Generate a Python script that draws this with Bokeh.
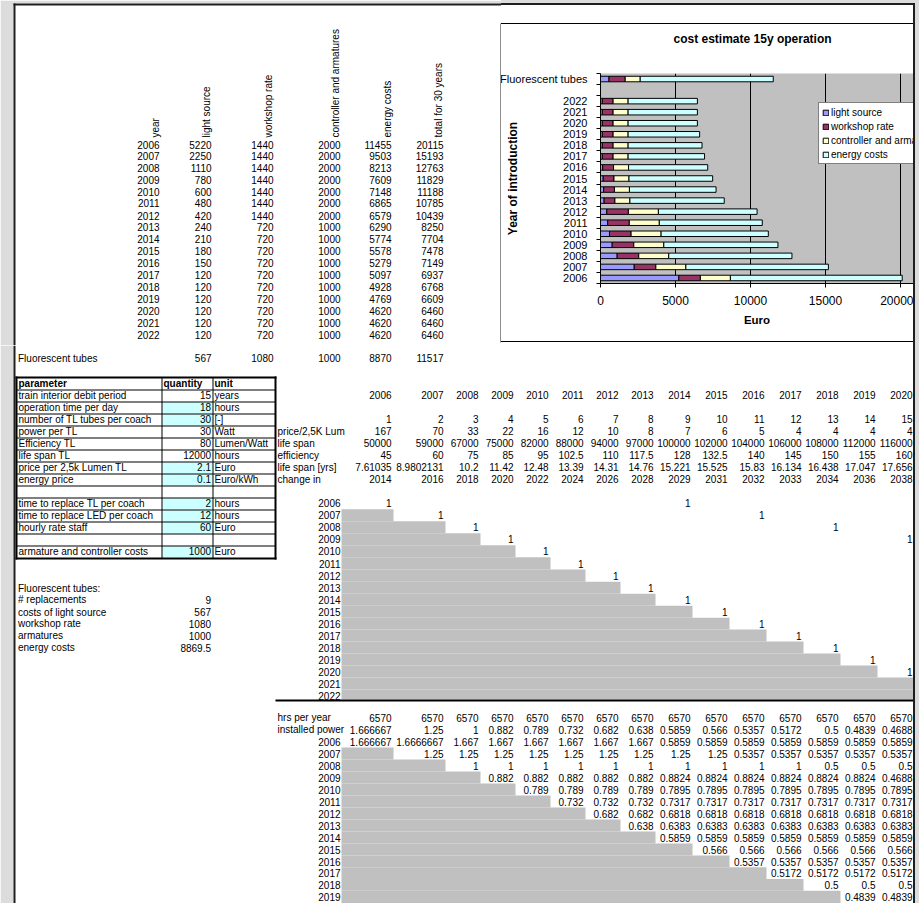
import math
from bokeh.plotting import figure
from bokeh.models import Range1d, FixedTicker, ColumnDataSource, Div, Title
from bokeh.layouts import row, column
from bokeh.core.properties import value
from bokeh.embed import file_html
from bokeh.resources import INLINE

# ------------------------------------------------------------------ data
years = [2006, 2007, 2008, 2009, 2010, 2011, 2012, 2013, 2014, 2015, 2016, 2017, 2018, 2019, 2020, 2021, 2022]
light_source = [5220, 2250, 1110, 780, 600, 480, 420, 240, 210, 180, 150, 120, 120, 120, 120, 120, 120]
workshop_rate = [1440, 1440, 1440, 1440, 1440, 1440, 1440, 720, 720, 720, 720, 720, 720, 720, 720, 720, 720]
controller_armatures = [2000, 2000, 2000, 2000, 2000, 2000, 2000, 1000, 1000, 1000, 1000, 1000, 1000, 1000, 1000, 1000, 1000]
energy_costs = [11455, 9503, 8213, 7609, 7148, 6865, 6579, 6290, 5774, 5578, 5279, 5097, 4928, 4769, 4620, 4620, 4620]
total_30y = [20115, 15193, 12763, 11829, 11188, 10785, 10439, 8250, 7704, 7478, 7149, 6937, 6768, 6609, 6460, 6460, 6460]
table_headers = ["year", "light source", "workshop rate", "controller and armatures", "energy costs", "total for 30 years"]

fl_label = "Fluorescent tubes"
fl_light, fl_workshop, fl_controller, fl_energy, fl_total = 567, 1080, 1000, 8870, 11517

chart_title = "cost estimate 15y operation"
series_names = ["light source", "workshop rate", "controller and armatures", "energy costs"]
chart_categories = ["2006", "2007", "2008", "2009", "2010", "2011", "2012", "2013", "2014", "2015",
                    "2016", "2017", "2018", "2019", "2020", "2021", "2022", "", "Fluorescent tubes"]
x_ticks = [0, 5000, 10000, 15000, 20000]
y_axis_title = "Year of introduction"
x_axis_title = "Euro"

param_header = ["parameter", "quantity", "unit"]
param_names = ["train interior debit period", "operation time per day", "number of TL tubes per coach",
               "power per TL", "Efficiency TL", "life span TL", "price per 2,5k Lumen TL", "energy price", "",
               "time to replace TL per coach", "time to replace LED per coach", "hourly rate staff", "",
               "armature and controller costs"]
param_qty = [15, 18, 30, 30, 80, 12000, 2.1, 0.1, None, 2, 12, 60, None, 1000]
param_unit = ["years", "hours", "[-]", "Watt", "Lumen/Watt", "hours", "Euro", "Euro/kWh", "",
              "hours", "hours", "Euro", "", "Euro"]
param_is_input = [False, True, True, False, False, False, True, True, False, True, True, True, False, True]

summary_title = "Fluorescent tubes:"
summary_labels = ["# replacements", "costs of light source", "workshop rate", "armatures", "energy costs"]
summary_values = [9, 567, 1080, 1000, 8869.5]

plan_years = [2006, 2007, 2008, 2009, 2010, 2011, 2012, 2013, 2014, 2015, 2016, 2017, 2018, 2019, 2020]
plan_index = [1, 2, 3, 4, 5, 6, 7, 8, 9, 10, 11, 12, 13, 14, 15]
plan_labels = ["price/2,5K Lum", "life span", "efficiency", "life span [yrs]", "change in"]
price_per_lum = [167, 70, 33, 22, 16, 12, 10, 8, 7, 6, 5, 4, 4, 4, 4]
life_span_h = [50000, 59000, 67000, 75000, 82000, 88000, 94000, 97000, 100000, 102000, 104000, 106000, 108000, 112000, 116000]
efficiency = [45, 60, 75, 85, 95, 102.5, 110, 117.5, 128, 132.5, 140, 145, 150, 155, 160]
life_span_yrs = [7.61035, 8.9802131, 10.2, 11.42, 12.48, 13.39, 14.31, 14.76, 15.221, 15.525, 15.83, 16.134, 16.438, 17.047, 17.656]
change_in = [2014, 2016, 2018, 2020, 2022, 2024, 2026, 2028, 2029, 2031, 2032, 2033, 2034, 2036, 2038]
replacement_marks = {2006: [2006, 2014], 2007: [2007, 2016], 2008: [2008, 2018], 2009: [2009, 2020],
                     2010: [2010], 2011: [2011], 2012: [2012], 2013: [2013], 2014: [2014], 2015: [2015],
                     2016: [2016], 2017: [2017], 2018: [2018], 2019: [2019], 2020: [2020], 2021: [], 2022: []}

hrs_label, power_label = "hrs per year", "installed power"
hrs_per_year = [6570, 6570, 6570, 6570, 6570, 6570, 6570, 6570, 6570, 6570, 6570, 6570, 6570, 6570, 6570]
installed_power = [1.666667, 1.25, 1, 0.882, 0.789, 0.732, 0.682, 0.638, 0.5859, 0.566, 0.5357, 0.5172, 0.5, 0.4839, 0.4688]
power_by_intro = {
    2006: [1.666667, 1.6666667, 1.667, 1.667, 1.667, 1.667, 1.667, 1.667, 0.5859, 0.5859, 0.5859, 0.5859, 0.5859, 0.5859, 0.5859],
    2007: [1.25, 1.25, 1.25, 1.25, 1.25, 1.25, 1.25, 1.25, 1.25, 0.5357, 0.5357, 0.5357, 0.5357, 0.5357],
    2008: [1, 1, 1, 1, 1, 1, 1, 1, 1, 1, 0.5, 0.5, 0.5],
    2009: [0.882, 0.882, 0.882, 0.882, 0.882, 0.8824, 0.8824, 0.8824, 0.8824, 0.8824, 0.8824, 0.4688],
    2010: [0.789, 0.789, 0.789, 0.789, 0.7895, 0.7895, 0.7895, 0.7895, 0.7895, 0.7895, 0.7895],
    2011: [0.732, 0.732, 0.732, 0.7317, 0.7317, 0.7317, 0.7317, 0.7317, 0.7317, 0.7317],
    2012: [0.682, 0.682, 0.6818, 0.6818, 0.6818, 0.6818, 0.6818, 0.6818, 0.6818],
    2013: [0.638, 0.6383, 0.6383, 0.6383, 0.6383, 0.6383, 0.6383, 0.6383],
    2014: [0.5859, 0.5859, 0.5859, 0.5859, 0.5859, 0.5859, 0.5859],
    2015: [0.566, 0.566, 0.566, 0.566, 0.566, 0.566],
    2016: [0.5357, 0.5357, 0.5357, 0.5357, 0.5357],
    2017: [0.5172, 0.5172, 0.5172, 0.5172],
    2018: [0.5, 0.5, 0.5],
    2019: [0.4839, 0.4839],
}

# ------------------------------------------------------------------ layout / style
FONT = "Liberation Sans"
PAGE_GREY = "#DCDCDC"
FRAME = "#1E1E1E"
CELL_GREY = "#C0C0C0"
INPUT_CYAN = "#CCFFFF"
SERIES_COLORS = ["#9999FF", "#993366", "#FFFFCC", "#CCFFFF"]

top_row_y = [144, 155.7, 167.3, 179.3, 191.7, 202.7, 215, 226.7, 238.3, 250.7, 262.3, 274.3, 286.7, 298.3, 310.3, 322.3, 334.3]
top_col_right = [159, 211, 273, 340, 391, 443]
top_hdr_x = [155, 206, 268, 335, 387, 438]
top_hdr_bottom = 137
fl_row_y = 357.7

par_row_y = [382.7 + 12 * k for k in range(15)]
stair_row_y = [502.7, 514.7, 526.7, 538.7, 550.7, 563, 575, 587.5, 599, 611.5, 623, 635, 647, 659, 671, 683, 695]
summary_row_y = [587.5, 599, 611.5, 623, 635, 647]
bot_row_y = [717, 729, 741, 753, 765, 777, 789, 801, 813, 825, 837, 849, 861, 872.5, 884.5, 896]
col_bounds = [341, 393, 445, 480, 515, 550, 585, 620, 655, 692, 729, 766, 803, 840, 877, 914]


def col_right(j):
    return col_bounds[j + 1] - 2


def fmt(v):
    return "" if v is None else str(v)


def sheet(x0, y0, w, h):
    return figure(width=w, height=h, x_range=Range1d(x0, x0 + w), y_range=Range1d(y0 + h, y0),
                  x_axis_type=None, y_axis_type=None, output_backend="svg", toolbar_location=None,
                  title=None, min_border=0, outline_line_color=None,
                  background_fill_color="white", border_fill_color="white")


def strip(w, h, background):
    return Div(text="", width=w, height=h, margin=0, styles={"background": background})


def boxes(f, rects, color):
    if not rects:
        return
    f.quad(left=[r[0] for r in rects], right=[r[1] for r in rects],
           top=[r[2] for r in rects], bottom=[r[3] for r in rects],
           fill_color=color, line_color=None)


def txt(f, xs, ys, texts, align="left", bold=False, size="10px", angle=0.0):
    f.text(x=list(xs), y=list(ys), text=list(texts), text_align=align, text_baseline="middle",
           angle=angle, text_font=value(FONT), text_font_size=value(size),
           text_font_style="bold" if bold else "normal", text_color="#000000")


# ------------------------------------------------------------------ A : top-left table
A = sheet(0, 0, 501, 345)
boxes(A, [(0, 13, 0, 345), (13, 501, 0, 3)], PAGE_GREY)
boxes(A, [(13, 15, 3, 345), (13, 501, 3, 5), (500, 501, 23, 342)], FRAME)
txt(A, top_hdr_x, [top_hdr_bottom] * 6, table_headers, align="left", angle=math.pi / 2)
cols = [years, light_source, workshop_rate, controller_armatures, energy_costs, total_30y]
for cx, vals in zip(top_col_right, cols):
    txt(A, [cx] * len(vals), top_row_y, [fmt(v) for v in vals], align="right")

# ------------------------------------------------------------------ B : chart
B1 = strip(412, 24, "linear-gradient(to bottom, %s 0px, %s 3px, %s 3px, %s 5px, #FFFFFF 5px, "
                    "#FFFFFF 23px, #000000 23px, #000000 24px)" % (PAGE_GREY, PAGE_GREY, FRAME, FRAME))
B2 = strip(412, 4, "linear-gradient(to bottom, #000000 0px, #000000 1px, #FFFFFF 1px, #FFFFFF 4px)")

cat_pos = list(range(len(chart_categories)))
bar_idx = [i for i, c in enumerate(chart_categories) if c]
src = ColumnDataSource(dict(
    pos=[cat_pos[i] for i in bar_idx],
    light=light_source + [fl_light],
    workshop=workshop_rate + [fl_workshop],
    controller=controller_armatures + [fl_controller],
    energy=energy_costs + [fl_energy],
))

B = figure(width=412, height=317, x_range=Range1d(0, 20867), y_range=Range1d(-0.5, len(chart_categories) - 0.5),
           output_backend="svg", toolbar_location=None, title=chart_title,
           min_border_left=99, min_border_right=0, min_border_top=49, min_border_bottom=58,
           background_fill_color=CELL_GREY, border_fill_color="white", outline_line_color=None)
B.hbar_stack(["light", "workshop", "controller", "energy"], y="pos", height=0.5,
             fill_color=SERIES_COLORS, line_color="black", line_width=1, source=src,
             legend_label=series_names)

B.title.align = "left"
B.title.offset = 73
B.title.standoff = 10
B.title.text_font = FONT
B.title.text_font_size = "12px"
B.title.text_font_style = "bold"
B.title.text_color = "#000000"
# empty spacer panel between the title and the plot area
B.add_layout(Title(text=" ", text_font_size="1px", standoff=20), "above")

B.xaxis.ticker = FixedTicker(ticks=x_ticks)
B.xgrid.grid_line_color = "black"
B.xgrid.grid_line_width = 1
B.ygrid.visible = False
B.yaxis.ticker = FixedTicker(ticks=[cat_pos[i] for i in bar_idx],
                             minor_ticks=[p - 0.5 for p in cat_pos] + [cat_pos[-1] + 0.5])
B.yaxis.major_label_overrides = {cat_pos[i]: chart_categories[i] for i in bar_idx}
for ax in (B.xaxis[0], B.yaxis[0]):
    ax.axis_line_color = "black"
    ax.major_tick_line_color = "black"
    ax.minor_tick_line_color = "black"
    ax.major_label_text_font = FONT
    ax.major_label_text_color = "#000000"
    ax.axis_label_text_font = FONT
    ax.axis_label_text_font_style = "bold"
    ax.axis_label_text_color = "#000000"
B.xaxis.major_tick_out = 4
B.xaxis.major_tick_in = 0
B.xaxis.minor_tick_out = 0
B.xaxis.minor_tick_in = 0
B.xaxis.major_label_standoff = 8
B.xaxis.major_label_text_font_size = "12px"
B.xaxis.axis_label = x_axis_title
B.xaxis.axis_label_text_font_size = "11.5px"
B.xaxis.axis_label_standoff = 6
B.yaxis.major_tick_out = 0
B.yaxis.major_tick_in = 0
B.yaxis.minor_tick_out = 4
B.yaxis.minor_tick_in = 0
B.yaxis.major_label_standoff = 9
B.yaxis.major_label_text_font_size = "11px"
B.yaxis.axis_label = y_axis_title
B.yaxis.axis_label_text_font_size = "12px"
B.yaxis.axis_label_standoff = -23

leg = B.legend[0]
leg.location = (218, 119)
leg.border_line_color = "black"
leg.border_line_width = 1
leg.background_fill_color = "white"
leg.background_fill_alpha = 1
leg.label_text_font = FONT
leg.label_text_font_size = "10px"
leg.label_text_color = "#000000"
leg.glyph_width = 7
leg.glyph_height = 7
leg.label_height = 12
leg.label_standoff = 2
leg.spacing = 2
leg.padding = 3
leg.margin = 0

# ------------------------------------------------------------------ C : lower sheet
C = sheet(0, 345, 913, 558)
boxes(C, [(0, 13, 345, 903)], PAGE_GREY)
boxes(C, [(13, 15, 345, 903)], FRAME)

# Fluorescent tubes row
txt(C, [17.5], [fl_row_y], [fl_label])
txt(C, top_col_right[1:], [fl_row_y] * 5,
    [fmt(v) for v in (fl_light, fl_workshop, fl_controller, fl_energy, fl_total)], align="right")

# parameter table
row_tops = [376.7 + 12 * k for k in range(16)]
cyan = [(162, 212, row_tops[k + 1] + 1, row_tops[k + 2]) for k, inp in enumerate(param_is_input) if inp]
boxes(C, cyan, INPUT_CYAN)
lines = [(15, 276, 376, 378), (15, 276, 557, 559), (15, 17, 376, 559), (274, 276, 376, 559),
         (161, 162, 377, 558), (212, 213, 377, 558)]
lines += [(16, 275, round(row_tops[k]), round(row_tops[k]) + 1) for k in range(1, 15)]
boxes(C, lines, "#000000")
txt(C, [18], [par_row_y[0]], [param_header[0]], bold=True)
txt(C, [163], [par_row_y[0]], [param_header[1]], bold=True)
txt(C, [214], [par_row_y[0]], [param_header[2]], bold=True)
txt(C, [18] * 14, par_row_y[1:], param_names)
txt(C, [210.5] * 14, par_row_y[1:], [fmt(v) for v in param_qty], align="right")
txt(C, [214] * 14, par_row_y[1:], param_unit)

# summary
txt(C, [17.5] * 6, summary_row_y, [summary_title] + summary_labels)
txt(C, [210.5] * 5, summary_row_y[1:], [fmt(v) for v in summary_values], align="right")

# plan block
rights = [col_right(j) for j in range(15)]
txt(C, rights, [par_row_y[1]] * 15, [fmt(v) for v in plan_years], align="right")
txt(C, rights, [par_row_y[3]] * 15, [fmt(v) for v in plan_index], align="right")
txt(C, [277] * 5, par_row_y[4:9], plan_labels)
for k, vals in enumerate([price_per_lum, life_span_h, efficiency, life_span_yrs, change_in]):
    txt(C, rights, [par_row_y[4 + k]] * 15, [fmt(v) for v in vals], align="right")

# replacement staircase
grey = []
mx, my = [], []
for i, yr in enumerate(years):
    y = stair_row_y[i]
    if i >= 1:
        top = (stair_row_y[i - 1] + y) / 2
        bot = (y + stair_row_y[i + 1]) / 2 if i + 1 < len(years) else 699
        grey.append((341, col_bounds[min(i, 15)], top, bot))
    for cy in replacement_marks[yr]:
        mx.append(col_right(cy - 2006))
        my.append(y)
boxes(C, grey, CELL_GREY)
txt(C, [340] * len(years), stair_row_y, [fmt(v) for v in years], align="right")
txt(C, mx, my, ["1"] * len(mx), align="right")
boxes(C, [(275, 913, 699, 701)], "#000000")

# installed power block
intro_years = list(power_by_intro.keys())
grey2 = []
for i, yr in enumerate(intro_years):
    if i >= 1:
        y = bot_row_y[2 + i]
        top = (bot_row_y[1 + i] + y) / 2
        bot = (y + bot_row_y[3 + i]) / 2 if 3 + i < len(bot_row_y) else 903
        grey2.append((341, col_bounds[min(i, 15)], top, bot))
boxes(C, grey2, CELL_GREY)
txt(C, [277, 277], bot_row_y[:2], [hrs_label, power_label])
txt(C, rights, [bot_row_y[0]] * 15, [fmt(v) for v in hrs_per_year], align="right")
txt(C, rights, [bot_row_y[1]] * 15, [fmt(v) for v in installed_power], align="right")
txt(C, [340] * len(intro_years), bot_row_y[2:], [fmt(v) for v in intro_years], align="right")
for i, yr in enumerate(intro_years):
    vals = power_by_intro[yr]
    start = 15 - len(vals)
    txt(C, rights[start:], [bot_row_y[2 + i]] * len(vals), [fmt(v) for v in vals], align="right")

# ------------------------------------------------------------------ right frame line
R = strip(6, 903, "linear-gradient(to bottom, %s 0px, %s 3px, transparent 3px), "
                  "linear-gradient(to right, %s 0px, %s 2px, %s 2px, %s 6px)"
          % (PAGE_GREY, PAGE_GREY, FRAME, FRAME, PAGE_GREY, PAGE_GREY))

p = row(column(row(A, column(B1, B, B2)), C), R)
open("out.html", "w").write(file_html(p, INLINE))
